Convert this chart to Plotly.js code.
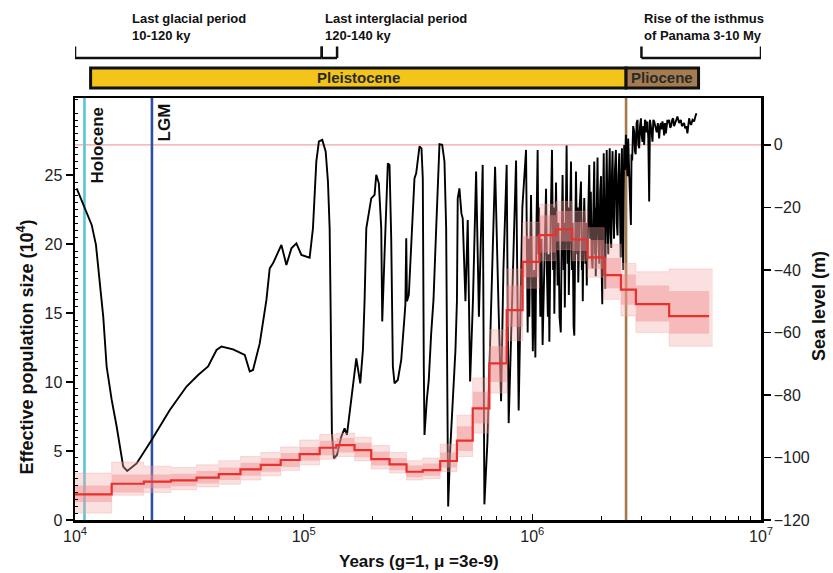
<!DOCTYPE html>
<html><head><meta charset="utf-8">
<script src="https://cdn.plot.ly/plotly-3.0.1.min.js"></script>
<style>html,body{margin:0;padding:0;background:#fff;} #chart{width:833px;height:573px;}</style>
</head><body><div id="chart"></div>
<script>
// ---- PSMC effective population size (x 10^4), step function ----
const stepStartKy = [10, 14.47, 20.0, 26.26, 34.0, 42.54, 52.91, 64.9, 79.35, 96.05,
  117.5, 138.9, 167.0, 197.5, 237.4, 281.8, 331.9, 395.4, 468.0, 548.6,
  649.0, 772.3, 907.1, 1073, 1269, 1491, 1744, 2063, 2440, 2837, 3966];
const stepEndKy = 5929;
const bandEndKy = 6150;
const neMedian = [1.86, 2.63, 2.78, 2.88, 3.07, 3.33, 3.67, 3.99, 4.35, 4.78,
  5.24, 5.43, 5.07, 4.42, 4.04, 3.50, 3.62, 4.28, 5.75, 8.09,
  11.36, 15.22, 18.72, 20.65, 21.07, 20.34, 19.04, 17.75, 16.70, 15.65, 14.78];
// bootstrap spread (dense core and faint outer range)
const neInnerLo = [1.3,2.0,2.3,2.45,2.65,2.9,3.2,3.5,3.85,4.3, 4.7,4.9,4.55,3.95,3.6,3.1,3.2,3.8,5.0,7.0, 10.0,14.0,17.6,19.4,20.2,19.5,18.2,16.8,15.6,14.4, 13.5];
const neInnerHi = [2.5,3.3,3.3,3.35,3.55,3.8,4.15,4.5,4.85,5.3, 5.75,5.95,5.6,4.95,4.5,3.95,4.1,4.9,6.8,9.3, 12.6,17.0,20.6,22.1,22.4,21.6,20.3,19.0,17.8,17.0, 16.6];
const neOuterLo = [0.5,1.8,2.0,2.2,2.4,2.6,2.9,3.2,3.6,4.0, 4.4,4.6,4.3,3.7,3.4,2.9,3.0,3.5,4.6,6.3, 9.2,13.0,16.8,18.8,19.6,18.8,17.6,16.0,14.8,13.6, 12.6];
const neOuterHi = [3.4,4.2,3.9,3.8,4.0,4.3,4.6,4.9,5.3,5.8, 6.2,6.3,6.0,5.4,4.9,4.3,4.5,5.5,7.6,10.3, 13.8,18.2,21.6,22.9,23.1,22.4,21.2,20.0,18.6,18.0, 18.2];

// ---- Sea level curve (m) ----
const seaAgeKy = [10.17,11.06,11.83,12.35,12.86,13.29,13.75,14.47,15.21,15.83,
  16.25,16.92,18.60,21.63,25.98,30.74,34.55,38.20,41.58,43.72,
  49.12,55.26,58.10,60.05,64.25,68.73,71.04,73.43,79.91,84.04,
  88.39,92.92,97.72,106.2,109.8,113.6,116.6,120.6,124.8,127.7,
  129.9,131.2,132.1,132.9,135.6,139.8,146.1,151.0,154.6,161.6,
  169.9,176.8,181.6,184.7,187.9,197.5,204.2,207.7,213.2,218.4,
  220.6,225.8,229.7,233.4,237.4,241.5,245.5,249.7,258.1,267.1,
  276.1,278.5,280.9,283.0,288.3,295.3,305.2,310.5,321.0,327.5,
  331.9,335.2,337.6,345.5,352.5,361.1,369.6,379.8,392.6,403.4,
  412.8,419.9,425.0,428.5,437.2,448.7,461.1,468.0,471.8,479.9,
  489.8,496.1,509.8,521.8,534.5,549.8,567.7,584.0,606.7,617.1,
  636.1,655.6,687.3,710.4,730.0,747.2,772.3,788.0,809.5,848.9,
  871.4,886.4,904.4,938.7,946,953.9,962,970,987,996,
  1005,1018,1031,1043,1055,1063,1070,1084,1096,1109,
  1128,1148,1158,1169,1178,1187,1203,1219,1233,1240,
  1248,1258,1269,1290,1300,1315,1332,1344,1356,1370,
  1378,1387,1400,1412,1428,1436,1444,1460,1476,1490,
  1500,1515,1526,1540,1552,1570,1578,1588,1610,1632,
  1647,1655,1662,1675,1687,1708,1718,1730,1752,1774,
  1790,1802,1818,1834,1850,1865,1880,1887,1894,1911,
  1928,1945,1962,1980,1997,2010,2022,2037,2052,2068,
  2084,2100,2115,2132,2148,2164,2180,2197,2213,2228,
  2243,2260,2276,2298,2320,2340,2358,2378,2399,2417,
  2435,2450,2465,2481,2497,2510,2522,2545,2566,2587,
  2608,2625,2639,2668,2698,2715,2733,2760,2789,2810,
  2831,2858,2883,2908,2933,2958,2984,3008,3032,3058,
  3084,3108,3131,3160,3188,3215,3243,3270,3299,3325,
  3353,3382,3411,3455,3498,3540,3586,3620,3648,3680,
  3707,3740,3771,3800,3836,3870,3898,3930,3966,4006,
  4046,4088,4128,4170,4212,4260,4310,4385,4460,4510,
  4565,4610,4657,4710,4767,4808,4849,4900,4946,5020,
  5099,5160,5219];
const seaLevelM = [-13.9,-20.2,-25.6,-32.0,-43.7,-55.0,-70.9,-81.6,-90.1,-98.7,
  -102.9,-104.3,-101.9,-94.4,-84.8,-77.3,-73.6,-70.9,-65.6,-64.5,
  -65.4,-67.2,-72.5,-72.0,-63.5,-49.6,-39.5,-37.9,-32.0,-38.4,
  -33.1,-31.5,-35.2,-36.1,-26.7,-5.3,1.1,1.6,-2.1,-11.7,
  -26.7,-52.3,-70.9,-92.3,-100.3,-99.2,-93.3,-90.7,-92.8,-81.6,
  -68.3,-76.3,-65.6,-49.6,-26.7,-17.1,-16.0,-9.6,-12.3,-26.7,
  -56.5,-35.0,-16.0,-5.9,-6.4,-30.0,-70.9,-76.3,-75.2,-68.8,
  -54.9,-51.0,-29.9,-50.0,-48.0,-32.0,-10.7,-9.1,-0.5,-1.1,
  -10.7,-70.9,-92.8,-81.6,-75.2,-60.3,-49.6,-26.7,0.2,0.0,
  -5.3,-26.7,-92.0,-115.7,-97.6,-81.6,-65.6,-50.0,-17.1,-13.9,
  -22.0,-23.5,-50.0,-24.0,-75.7,-50.0,-8.5,-55.0,-6.4,-115.0,
  -95.0,-60.0,-7.0,-50.0,-82.0,-40.0,-6.4,-89.0,-60.0,-5.0,
  -85.0,-60.0,-20.0,-1.6,-45,-60,-30,-55,-16,-50,
  -66,-40,-68,-25,-1.6,-35,-20,-55,-30,-64,
  -35,-14,-40,-55,-35,-63,-25,-1.6,-40,-20,
  -54,-30,-12,-45,-25,-55,-60,-30,-9.6,-40,
  -25,-52,-20,-0.2,-38,-20,-48,-25,-5.3,-40,
  -25,-58,-61,-30,-8.5,-35,-20,-44,-20,-11.7,
  -40,-30,-50,-28,-17,-38,-25,-45,-20,-6.4,
  -30,-15,-36,-39.5,-20,-5.3,-35,-20,-42,-18,
  -4.0,-30,-38,-15,-10,-40,-51,-20,-2.7,-30,
  -46,-18,-1.6,-25,-35,-12,-1.1,-28,-33,-10,
  -2.0,-22,-30,-8,-1.6,-25,-29,-10,-2.7,-20,
  -36,-12,-1.1,-25,-40,-15,0.0,-8,3.2,-5,
  -10,2,-2,-15,-25.6,-3,-5,6,4.3,-2,
  -3,7,8,0,-1.1,6,8.5,3,1,6,
  0,8,7.5,4,7.5,2,-18.1,8,6.4,4,
  1,8,7.5,5,4,7,2.1,6,7,5,
  7.5,6,3,7,3.7,6,8,7,8,5.5,
  6,8,8.5,6,7,8.5,9.1,7,8,6,
  6.5,7,5.3,6,3.7,7,8.5,7,6.4,8,
  7.5,9,10.1];

// ---- reference events ----
const holoceneKy = 11.0;
const lgmKy = 21.7;
const plioPleistKy = 2570;
const epochNames = ['Pleistocene', 'Pliocene'];
const epochStartKy = [11.7, 2570];
const epochEndKy = [2570, 5333];
const epochColors = ['#f3c51a', '#a57c50'];
const periodStartKy = [10, 120, 3000];
const periodEndKy = [120, 140, 10000];
const periodLine1 = ['Last glacial period', 'Last interglacial period', 'Rise of the isthmus'];
const periodLine2 = ['10-120 ky', '120-140 ky', 'of Panama 3-10 My'];
const neTicks = [0, 5, 10, 15, 20, 25];
const seaTicks = [-120, -100, -80, -60, -40, -20, 0];
const yearTicks = [1e4, 1e5, 1e6, 1e7];
const yearTickText = ['10<sup>4</sup>', '10<sup>5</sup>', '10<sup>6</sup>', '10<sup>7</sup>'];

// ---- helpers ----
const toYears = a => a.map(v => v * 1000);
const stepX = (starts, end) => toYears(starts.concat([end]));
const stepY = vals => vals.concat([vals[vals.length - 1]]);
const L = 75, T = 98, W = 686, H = 422;
const px = x => (x - L) / W;
const py = y => (T + H - y) / H;
const FONT = 'Liberation Sans, Arial, Helvetica, sans-serif';

// minor tick positions
const xMinor = [];
for (let k = 4; k < 7; k++) for (let d = 2; d <= 9; d++) xMinor.push(d * Math.pow(10, k));
const yMinor = [];
for (let v = 0.5; v < 30.6; v += 0.5) if (Math.abs(v % 5) > 0.01) yMinor.push(v);

const traces = [
  {x: toYears(seaAgeKy), y: seaLevelM, yaxis: 'y', mode: 'lines',
   line: {color: '#000', width: 1.9}, hoverinfo: 'skip'},
  {x: stepX(stepStartKy, bandEndKy), y: stepY(neOuterLo), yaxis: 'y2', mode: 'lines',
   line: {shape: 'hv', width: 0.6, color: 'rgba(240,150,150,0.5)'}, hoverinfo: 'skip'},
  {x: stepX(stepStartKy, bandEndKy), y: stepY(neOuterHi), yaxis: 'y2', mode: 'lines', fill: 'tonexty',
   fillcolor: 'rgba(244,165,165,0.35)',
   line: {shape: 'hv', width: 0.6, color: 'rgba(240,150,150,0.5)'}, hoverinfo: 'skip'},
  {x: stepX(stepStartKy, stepEndKy), y: stepY(neInnerLo), yaxis: 'y2', mode: 'lines',
   line: {shape: 'hv', width: 0}, hoverinfo: 'skip'},
  {x: stepX(stepStartKy, stepEndKy), y: stepY(neInnerHi), yaxis: 'y2', mode: 'lines', fill: 'tonexty',
   fillcolor: 'rgba(240,140,140,0.45)',
   line: {shape: 'hv', width: 0}, hoverinfo: 'skip'},
  {x: stepX(stepStartKy, stepEndKy), y: stepY(neMedian), yaxis: 'y2', mode: 'lines',
   line: {shape: 'hv', color: '#e8302c', width: 2.2}, hoverinfo: 'skip'}
];

const shapes = [
  {type: 'line', xref: 'paper', x0: 0, x1: 1, yref: 'y', y0: 0, y1: 0,
   line: {color: '#f4a3a3', width: 1.3}, layer: 'below'},
  {type: 'line', xref: 'x', x0: holoceneKy * 1000, x1: holoceneKy * 1000, yref: 'paper', y0: 0, y1: 1,
   line: {color: '#58c5d3', width: 2.6}, layer: 'below'},
  {type: 'line', xref: 'x', x0: lgmKy * 1000, x1: lgmKy * 1000, yref: 'paper', y0: 0, y1: 1,
   line: {color: '#2c4fa3', width: 2.6}, layer: 'below'},
  {type: 'line', xref: 'x', x0: plioPleistKy * 1000, x1: plioPleistKy * 1000, yref: 'paper', y0: 0, y1: 1,
   line: {color: '#a57a48', width: 2.6}, layer: 'below'}
];
epochNames.forEach((n, i) => {
  shapes.push({type: 'rect', xref: 'x', x0: epochStartKy[i] * 1000, x1: epochEndKy[i] * 1000,
    yref: 'paper', y0: py(88), y1: py(68), fillcolor: epochColors[i], line: {color: '#111', width: 3}});
});
const brY = py(58), brTop = py(46.5);
periodStartKy.forEach((s, i) => {
  const e = periodEndKy[i];
  shapes.push({type: 'line', xref: 'x', x0: s * 1000, x1: e * 1000, yref: 'paper', y0: brY, y1: brY, line: {color: '#111', width: 2.5}});
  shapes.push({type: 'line', xref: 'x', x0: s * 1000, x1: s * 1000, yref: 'paper', y0: brY, y1: brTop, line: {color: '#111', width: 2.5}});
  shapes.push({type: 'line', xref: 'x', x0: e * 1000, x1: e * 1000, yref: 'paper', y0: brY, y1: brTop, line: {color: '#111', width: 2.5}});
});

const textLeft = [130, 323, 642];
const annotations = [];
periodLine1.forEach((t, i) => {
  annotations.push({xref: 'paper', yref: 'paper', x: px(textLeft[i]), y: py(18), xanchor: 'left', yanchor: 'middle',
    text: '<b>' + t + '</b>', showarrow: false, font: {family: FONT, size: 13, color: '#111'}});
  annotations.push({xref: 'paper', yref: 'paper', x: px(textLeft[i]), y: py(36), xanchor: 'left', yanchor: 'middle',
    text: '<b>' + periodLine2[i] + '</b>', showarrow: false, font: {family: FONT, size: 13, color: '#111'}});
});
epochNames.forEach((n, i) => {
  annotations.push({xref: 'x', yref: 'paper', x: (Math.log10(epochStartKy[i] * 1000) + Math.log10(epochEndKy[i] * 1000)) / 2,
    y: py(78), xanchor: 'center', yanchor: 'middle', text: '<b>' + n + '</b>', showarrow: false,
    font: {family: FONT, size: 15, color: '#2a2a2a'}});
});
annotations.push({xref: 'x', yref: 'paper', x: Math.log10(holoceneKy * 1000), xshift: 13, y: py(145), textangle: -90,
  xanchor: 'center', yanchor: 'middle', text: '<b>Holocene</b>', showarrow: false, font: {family: FONT, size: 17, color: '#111'}});
annotations.push({xref: 'x', yref: 'paper', x: Math.log10(lgmKy * 1000), xshift: 13, y: py(122.5), textangle: -90,
  xanchor: 'center', yanchor: 'middle', text: '<b>LGM</b>', showarrow: false, font: {family: FONT, size: 17, color: '#111'}});
annotations.push({xref: 'paper', yref: 'paper', x: px(25.5), y: py(347), textangle: -90, xanchor: 'center', yanchor: 'middle',
  text: '<b>Effective population size (10<sup>4</sup>)</b>', showarrow: false, font: {family: FONT, size: 18, color: '#111'}});
annotations.push({xref: 'paper', yref: 'paper', x: px(819), y: py(306), textangle: -90, xanchor: 'center', yanchor: 'middle',
  text: '<b>Sea level (m)</b>', showarrow: false, font: {family: FONT, size: 18, color: '#111'}});
annotations.push({xref: 'paper', yref: 'paper', x: px(418.5), y: py(561), xanchor: 'center', yanchor: 'middle',
  text: '<b>Years (g=1, μ =3e-9)</b>', showarrow: false, font: {family: FONT, size: 17, color: '#111'}});

const layout = {
  width: 833, height: 573,
  margin: {l: 75, r: 72, t: 98, b: 53, pad: 0},
  paper_bgcolor: '#fff', plot_bgcolor: '#fff',
  showlegend: false,
  font: {family: FONT, color: '#222'},
  xaxis: {type: 'log', range: [4, 7], tickmode: 'array', tickvals: yearTicks, ticktext: yearTickText,
    ticks: 'inside', ticklen: 6, tickwidth: 1.5, tickcolor: '#000',
    showline: true, linecolor: '#000', linewidth: 2.5, mirror: true,
    showgrid: false, zeroline: false, tickfont: {family: FONT, size: 16, color: '#222'},
    minor: {tickmode: 'array', tickvals: xMinor, ticks: 'inside', ticklen: 4, tickwidth: 1, tickcolor: '#000', showgrid: false}},
  yaxis: {side: 'right', range: [-120, 15], tickvals: seaTicks, ticks: 'outside', ticklen: 7, tickwidth: 1.5,
    tickcolor: '#000', showline: true, linecolor: '#000', linewidth: 2.5, showgrid: false, zeroline: false,
    tickfont: {family: FONT, size: 16, color: '#222'}},
  yaxis2: {overlaying: 'y', side: 'left', range: [0, 30.6], tickvals: neTicks, ticks: 'outside', ticklen: 7, tickwidth: 1.5,
    tickcolor: '#000', showline: true, linecolor: '#000', linewidth: 2.5, showgrid: false, zeroline: false,
    tickfont: {family: FONT, size: 16, color: '#222'},
    minor: {tickmode: 'array', tickvals: yMinor, ticks: 'inside', ticklen: 3, tickcolor: '#000', tickwidth: 1, showgrid: false}},
  shapes: shapes,
  annotations: annotations
};

Plotly.newPlot('chart', traces, layout, {staticPlot: true, displayModeBar: false});
</script>
</body></html>
